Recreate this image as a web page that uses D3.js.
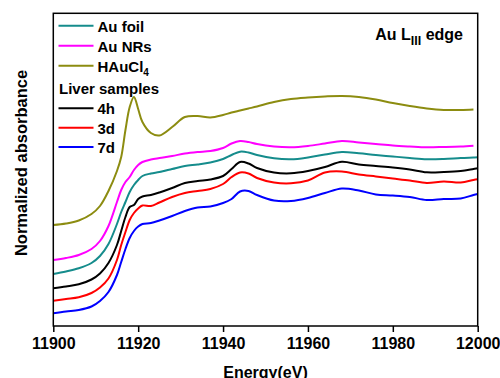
<!DOCTYPE html>
<html>
<head>
<meta charset="utf-8">
<script src="https://cdn.jsdelivr.net/npm/d3@7"></script>
<style>
  body { margin: 0; background: #fff; }
  svg { display: block; font-family: "Liberation Sans", Arial, sans-serif; font-weight: bold; }
</style>
</head>
<body>
<div id="chart"></div>
<script>
// energy grid (eV) shared by every spectrum
const energy = [11900, 11903, 11906, 11909, 11911, 11913, 11915, 11916, 11917, 11918,
  11919, 11920, 11921, 11923, 11925, 11928, 11931, 11934, 11937, 11940,
  11942, 11944, 11946, 11948, 11952, 11956, 11960, 11964, 11968, 11972,
  11976, 11980, 11984, 11988, 11992, 11996, 11999, 12000];

// normalized absorbance (stacked with offsets, as plotted)
const hauCl4 = [1.01, 1.025, 1.055, 1.12, 1.20, 1.35, 1.55, 1.69, 1.96, 2.19,
  2.29, 2.17, 2.04, 1.93, 1.905, 1.99, 2.09, 2.10, 2.085, 2.11,
  2.135, 2.155, 2.175, 2.195, 2.24, 2.27, 2.285, 2.295, 2.30, 2.29,
  2.265, 2.23, 2.20, 2.175, 2.16, 2.16, 2.165, null];
const auNRs = [0.66, 0.68, 0.71, 0.77, 0.85, 1.00, 1.24, 1.36, 1.44, 1.49,
  1.56, 1.61, 1.64, 1.665, 1.68, 1.70, 1.725, 1.74, 1.75, 1.78,
  1.825, 1.85, 1.84, 1.82, 1.795, 1.787, 1.80, 1.825, 1.85, 1.835,
  1.82, 1.805, 1.795, 1.787, 1.79, 1.795, 1.803, null];
const auFoil = [0.52, 0.545, 0.577, 0.63, 0.70, 0.82, 1.02, 1.14, 1.24, 1.34,
  1.41, 1.46, 1.50, 1.525, 1.54, 1.57, 1.60, 1.615, 1.635, 1.67,
  1.71, 1.743, 1.735, 1.71, 1.677, 1.667, 1.685, 1.715, 1.74, 1.727,
  1.71, 1.695, 1.68, 1.667, 1.67, 1.68, 1.685, 1.687];
const liver4h = [0.377, 0.395, 0.417, 0.465, 0.525, 0.63, 0.81, 0.95, 1.09, 1.19,
  1.21, 1.27, 1.295, 1.31, 1.335, 1.38, 1.43, 1.45, 1.465, 1.50,
  1.57, 1.64, 1.625, 1.58, 1.535, 1.527, 1.55, 1.59, 1.643, 1.615,
  1.60, 1.585, 1.565, 1.537, 1.54, 1.55, 1.57, 1.577];
const liver3d = [0.253, 0.27, 0.287, 0.33, 0.385, 0.475, 0.66, 0.81, 0.94, 1.06,
  1.13, 1.175, 1.205, 1.20, 1.235, 1.29, 1.33, 1.35, 1.37, 1.42,
  1.49, 1.535, 1.525, 1.48, 1.435, 1.427, 1.455, 1.535, 1.545, 1.515,
  1.495, 1.475, 1.455, 1.43, 1.445, 1.435, 1.46, 1.467];
const liver7d = [0.127, 0.145, 0.16, 0.195, 0.25, 0.34, 0.51, 0.64, 0.77, 0.88,
  0.95, 0.995, 1.02, 1.03, 1.055, 1.10, 1.15, 1.185, 1.195, 1.23,
  1.27, 1.345, 1.35, 1.31, 1.255, 1.25, 1.28, 1.33, 1.375, 1.355,
  1.315, 1.305, 1.29, 1.26, 1.27, 1.275, 1.31, 1.32];

const xTicks = [11900, 11920, 11940, 11960, 11980, 12000];

const series = [
  { name: "Au foil", values: auFoil, color: "#158c8c" },
  { name: "Au NRs", values: auNRs, color: "#ff00ff" },
  { name: "HAuCl4", values: hauCl4, color: "#8c8c10" },
  { name: "4h", values: liver4h, color: "#000000" },
  { name: "3d", values: liver3d, color: "#ff0000" },
  { name: "7d", values: liver7d, color: "#0000ff" }
];

const width = 500, height = 378;
const plotLeft = 53.3, plotRight = 477.7, plotTop = 13.3, plotBottom = 326;

const svg = d3.select("#chart").append("svg")
  .attr("width", width).attr("height", height);

const x = d3.scaleLinear().domain([11900, 12000]).range([plotLeft, plotRight]);
const y = d3.scaleLinear().domain([0, 3.127]).range([plotBottom, plotTop]);

// spectra
const line = d3.line()
  .defined(d => d[1] != null)
  .x(d => x(d[0]))
  .y(d => y(d[1]))
  .curve(d3.curveCatmullRom.alpha(0.5));

svg.append("g")
  .selectAll("path")
  .data(series)
  .join("path")
  .attr("fill", "none")
  .attr("stroke", d => d.color)
  .attr("stroke-width", 2)
  .attr("d", d => line(energy.map((e, i) => [e, d.values[i]])));

// frame
svg.append("rect")
  .attr("x", plotLeft).attr("y", plotTop)
  .attr("width", plotRight - plotLeft).attr("height", plotBottom - plotTop)
  .attr("fill", "none").attr("stroke", "#000").attr("stroke-width", 1.5);

// x axis
const xAxis = svg.append("g")
  .attr("transform", `translate(0,${plotBottom})`)
  .call(d3.axisBottom(x).tickValues(xTicks).tickFormat(d3.format("d")).tickSize(6).tickPadding(6));
xAxis.select(".domain").remove();
xAxis.selectAll(".tick line").attr("stroke-width", 1.5);
xAxis.selectAll("text")
  .attr("font-family", "Liberation Sans, Arial, sans-serif")
  .attr("font-weight", "bold")
  .attr("font-size", 16)
  .attr("fill", "#000");

// axis title sits at the bottom edge, partly clipped as in the source figure
svg.append("text")
  .attr("x", 265.5).attr("y", 378)
  .attr("text-anchor", "middle")
  .attr("font-size", 16)
  .text("Energy(eV)");

svg.append("text")
  .attr("transform", "translate(26.5,163) rotate(-90)")
  .attr("text-anchor", "middle")
  .attr("font-size", 16.5)
  .text("Normalized absorbance");

// legend
const legend = svg.append("g");
const legendRows = [
  { s: series[0], y: 25.7 },
  { s: series[1], y: 45.7 },
  { s: series[2], y: 65.7 },
  { s: series[3], y: 108.3 },
  { s: series[4], y: 127.7 },
  { s: series[5], y: 147 }
];
legendRows.forEach(r => {
  legend.append("line")
    .attr("x1", 58.5).attr("x2", 93.5)
    .attr("y1", r.y).attr("y2", r.y)
    .attr("stroke", r.s.color).attr("stroke-width", 2);
  const t = legend.append("text")
    .attr("x", 97.5).attr("y", r.y + 6)
    .attr("font-size", 15);
  if (r.s.name === "HAuCl4") {
    t.append("tspan").text("HAuCl");
    t.append("tspan").attr("font-size", 10).attr("dy", 4).text("4");
  } else {
    t.text(r.s.name);
  }
});
legend.append("text")
  .attr("x", 59).attr("y", 94)
  .attr("font-size", 15)
  .text("Liver samples");

// edge label
const edge = svg.append("text")
  .attr("x", 463).attr("y", 40)
  .attr("text-anchor", "end")
  .attr("font-size", 16);
edge.append("tspan").text("Au L");
edge.append("tspan").attr("font-size", 12.5).attr("dy", 5).text("III");
edge.append("tspan").attr("dy", -5).text(" edge");
</script>
</body>
</html>
